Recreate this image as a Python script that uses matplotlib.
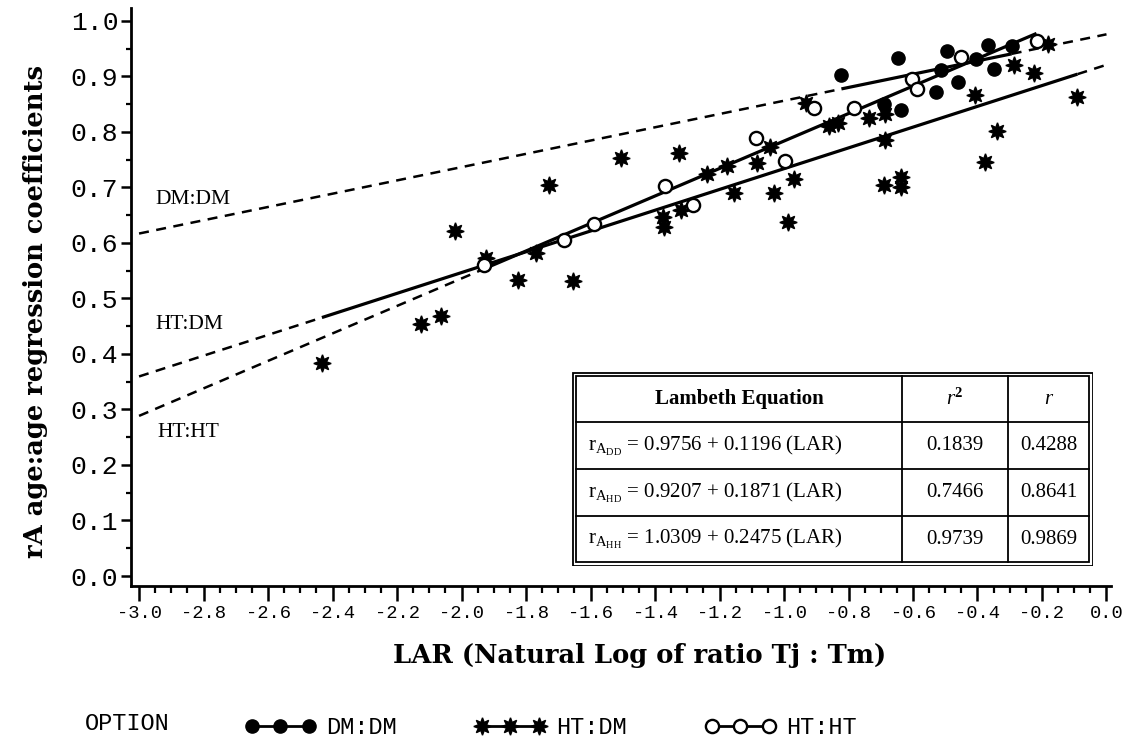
import matplotlib
matplotlib.use("Agg")
import matplotlib.pyplot as plt
from matplotlib.lines import Line2D
from matplotlib.ticker import MultipleLocator
import numpy as np

# ---------------- data ----------------
dm_lar = [-0.822, -0.689, -0.646, -0.637, -0.530, -0.512, -0.495, -0.460, -0.406, -0.367, -0.350, -0.294]
dm_r = [0.902, 0.850, 0.933, 0.839, 0.871, 0.912, 0.945, 0.890, 0.932, 0.956, 0.914, 0.954]

hd_lar = [-2.433, -2.127, -2.064, -2.020, -1.925, -1.825, -1.770, -1.728, -1.655, -1.505,
          -1.374, -1.371, -1.327, -1.320, -1.238, -1.176, -1.154, -1.085, -1.043, -1.032,
          -0.988, -0.968, -0.932, -0.862, -0.832, -0.735, -0.688, -0.687, -0.689, -0.638,
          -0.637, -0.407, -0.378, -0.341, -0.288, -0.226, -0.182, -0.090]
hd_r = [0.383, 0.453, 0.469, 0.621, 0.573, 0.534, 0.581, 0.704, 0.532, 0.752,
        0.646, 0.628, 0.762, 0.660, 0.724, 0.738, 0.690, 0.744, 0.773, 0.689,
        0.638, 0.715, 0.852, 0.810, 0.815, 0.825, 0.832, 0.786, 0.705, 0.718,
        0.700, 0.866, 0.745, 0.801, 0.921, 0.906, 0.959, 0.863]

hh_lar = [-1.930, -1.683, -1.588, -1.369, -1.282, -1.087, -0.997, -0.906, -0.782, -0.603, -0.589, -0.452, -0.217]
hh_r = [0.560, 0.606, 0.634, 0.703, 0.669, 0.789, 0.748, 0.842, 0.842, 0.896, 0.878, 0.934, 0.964]

options = ["DM:DM", "HT:DM", "HT:HT"]
eq_sub = ["DD", "HD", "HH"]
intercepts = [0.9756, 0.9207, 1.0309]
slopes = [0.1196, 0.1871, 0.2475]
r2_vals = ["0.1839", "0.7466", "0.9739"]
r_vals = ["0.4288", "0.8641", "0.9869"]
extend_right = [True, True, False]

x_ticks = [i / 5 for i in range(-15, 1)]
y_ticks = [i / 10 for i in range(0, 11)]

# ---------------- style ----------------
plt.rcParams["mathtext.fontset"] = "custom"
plt.rcParams["mathtext.rm"] = "Liberation Serif"
plt.rcParams["mathtext.it"] = "Liberation Serif:italic"
plt.rcParams["mathtext.bf"] = "Liberation Serif:bold"

W, H = 1134, 751
fig = plt.figure(figsize=(W / 100, H / 100), dpi=100)
L, R, T, B = 131, 1111, 8, 586
ax = fig.add_axes([L / W, 1 - B / H, (R - L) / W, (B - T) / H])
ax.set_xlim(-3.025, 0.014)
ax.set_ylim(-0.018, 1.023)

for s in ["top", "right"]:
    ax.spines[s].set_visible(False)
for s in ["left", "bottom"]:
    ax.spines[s].set_linewidth(2.0)

ax.set_xticks(x_ticks)
ax.set_xticklabels([f"{v:.1f}" for v in x_ticks], fontfamily="Liberation Mono", fontsize=13.5)
ax.set_yticks(y_ticks)
ax.set_yticklabels([f"{v:.1f}" for v in y_ticks], fontfamily="Liberation Mono", fontsize=19)
ax.xaxis.set_minor_locator(MultipleLocator(0.05))
ax.yaxis.set_minor_locator(MultipleLocator(0.05))
ax.tick_params(axis="x", which="major", length=10.5, width=1.8, direction="out", pad=3)
ax.tick_params(axis="x", which="minor", length=5, width=1.6, direction="out")
ax.tick_params(axis="y", which="major", length=7, width=1.8, direction="out", pad=2)
ax.tick_params(axis="y", which="minor", length=3.6, width=1.6, direction="out")

# ---------------- regression lines ----------------
groups = [(dm_lar, dm_r), (hd_lar, hd_r), (hh_lar, hh_r)]
for (gx, gy), a, b, ext in zip(groups, intercepts, slopes, extend_right):
    x0, x1 = min(gx), max(gx)
    xs = np.array([x_ticks[0], x0])
    ax.plot(xs, a + b * xs, color="black", lw=1.8, ls=(0, (4, 3)), zorder=2)
    xs = np.array([x0, x1])
    ax.plot(xs, a + b * xs, color="black", lw=2.3, solid_capstyle="butt", zorder=2)
    if ext:
        xs = np.array([x1, x_ticks[-1]])
        ax.plot(xs, a + b * xs, color="black", lw=1.8, ls=(0, (4, 3)), zorder=2)

# ---------------- points ----------------
dm_style = dict(marker="o", ms=9.5, mfc="black", mec="black", color="black")
hd_style = dict(marker=(8, 1, 0), ms=12.5, mfc="black", mec="black", color="black")
hh_style = dict(marker="o", ms=9.5, mfc="white", mec="black", mew=1.7, color="black")
ax.plot(hd_lar, hd_r, ls="none", zorder=3, **hd_style)
ax.plot(dm_lar, dm_r, ls="none", zorder=4, **dm_style)
ax.plot(hh_lar, hh_r, ls="none", zorder=5, **hh_style)

# ---------------- line labels ----------------
label_pos = [(-2.948, 0.679), (-2.949, 0.453), (-2.942, 0.259)]
for name, (lx, ly) in zip(options, label_pos):
    ax.text(lx, ly, name, fontfamily="Liberation Serif", fontsize=15.5, ha="left", va="center")

# ---------------- axis labels ----------------
ax.set_ylabel("rA age:age regression coefficients", fontfamily="DejaVu Serif",
              fontweight="bold", fontsize=18.5)
ax.yaxis.set_label_coords((48 - L) / (R - L), (B - 312) / (B - T))
ax.set_xlabel("LAR (Natural Log of ratio Tj : Tm)", fontfamily="DejaVu Serif",
              fontweight="bold", fontsize=18.5)
ax.xaxis.set_label_coords((640 - L) / (R - L), (B - 643) / (B - T))

# ---------------- table ----------------
tx0, ty0, tw, th = 572, 372, 521, 194
tax = fig.add_axes([tx0 / W, 1 - (ty0 + th) / H, tw / W, th / H])
tax.set_xlim(0, tw)
tax.set_ylim(th, 0)
tax.axis("off")
tax.add_patch(plt.Rectangle((0.5, 0.5), tw - 1, th - 1, fill=False, lw=1.3, color="black"))
tax.add_patch(plt.Rectangle((4, 4), tw - 8, th - 8, fill=False, lw=1.3, color="black"))
c1, c2 = 330, 436
rows_y = [4, 50, 97, 144, th - 4]
for yy in rows_y[1:-1]:
    tax.plot([4, tw - 4], [yy, yy], color="black", lw=1.3)
for xx in (c1, c2):
    tax.plot([xx, xx], [4, th - 4], color="black", lw=1.3)
mid = [(rows_y[i] + rows_y[i + 1]) / 2 for i in range(4)]
tfont = dict(fontfamily="Liberation Serif", fontsize=15, va="center")
tax.text((4 + c1) / 2, mid[0], "Lambeth Equation", ha="center", fontweight="bold", **tfont)
tax.text((c1 + c2) / 2, mid[0], r"$\mathit{r}^{\mathbf{2}}$", ha="center", **tfont)
tax.text((c2 + tw - 4) / 2, mid[0], "r", ha="center", fontstyle="italic", **tfont)
for i in range(3):
    eq = (r"$\mathrm{r}_{\mathrm{A}_{\mathrm{" + eq_sub[i] + r"}}}$" +
          f" = {intercepts[i]:.4f} + {slopes[i]:.4f} (LAR)")
    tax.text(16, mid[i + 1], eq, ha="left", **tfont)
    tax.text((c1 + c2) / 2, mid[i + 1], r2_vals[i], ha="center", **tfont)
    tax.text((c2 + tw - 4) / 2, mid[i + 1], r_vals[i], ha="center", **tfont)

# ---------------- legend ----------------
fig.text(85 / W, 1 - 724 / H, "OPTION", fontfamily="Liberation Mono", fontsize=17,
         ha="left", va="center")
handles = [Line2D([], [], lw=2.0, **dm_style),
           Line2D([], [], lw=2.0, **hd_style),
           Line2D([], [], lw=2.0, **hh_style)]
fig.legend(handles, options, loc="center left", bbox_to_anchor=(245 / W, 1 - 728 / H),
           ncol=3, frameon=False, numpoints=3, handlelength=3.0, handletextpad=0.45,
           columnspacing=3.3, borderpad=0, borderaxespad=0,
           prop={"family": "Liberation Mono", "size": 17})

fig.savefig("out.png", dpi=100)
